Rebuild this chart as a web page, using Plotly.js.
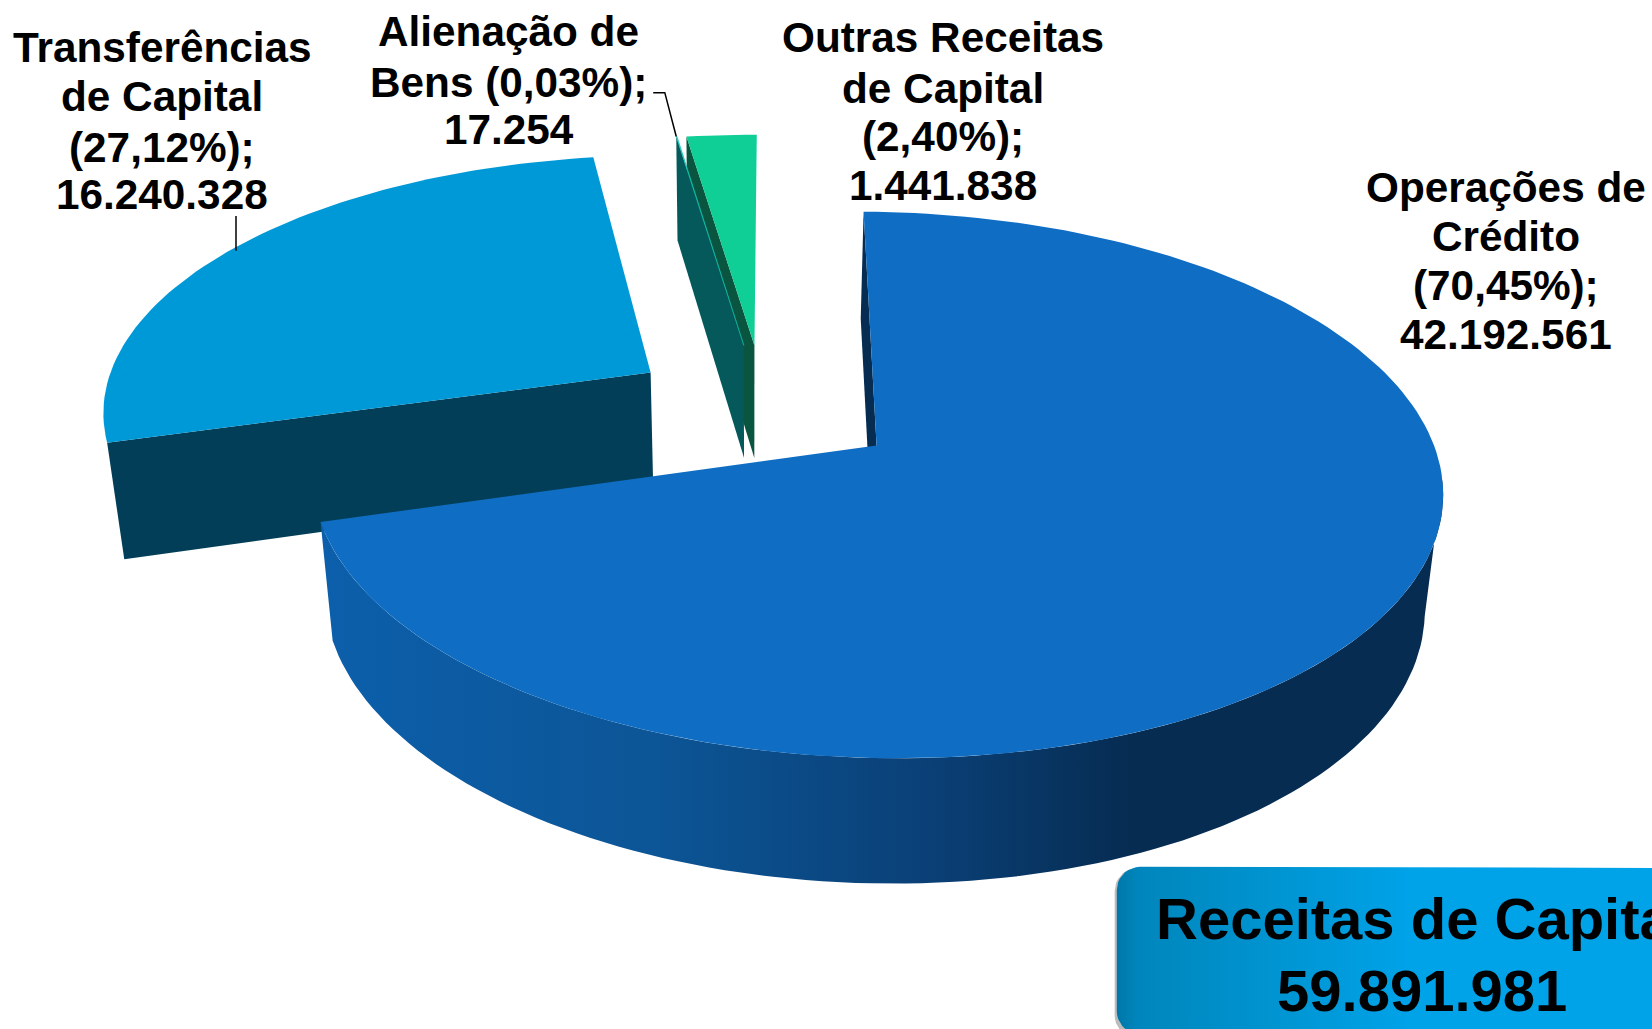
<!DOCTYPE html>
<html><head><meta charset="utf-8">
<script src="https://cdn.plot.ly/plotly-3.0.1.min.js"></script>
<style>html,body{margin:0;padding:0;background:#fff;overflow:hidden}#c{width:1652px;height:1029px}</style>
</head><body><div id="c"></div>
<script>
// ---- data ----
const categories = ["Operações de Crédito","Transferências de Capital","Alienação de Bens","Outras Receitas de Capital"];
const values = [42192561,16240328,17254,1441838];
const labelLines = [
  ["Operações de","Crédito","(70,45%);","42.192.561"],
  ["Transferências","de Capital","(27,12%);","16.240.328"],
  ["Alienação de","Bens (0,03%);","17.254"],
  ["Outras Receitas","de Capital","(2,40%);","1.441.838"]
];
const boxLines = ["Receitas de Capital","59.891.981"];

// ---- view geometry: a perspective view of the pie's plane, in picture units ----
const VW=1568, VH=977;
const cx=832, cy=423, f=531, g=254, k=0.1445, dw=0.027, H=113, shearX=0.03, shearY=0.010, lowShift=-3;
const startDeg=-0.7;
const apexes=[[0,0],[-0.416,0.275],[-0.245,0.39],[-0.225,0.39]];
const topCol=["#0f6ec4","#0099d8","#12c4b4","#0fce96"];
const faceCol=["#062c52","#023e57","#05595a","#0a5540"];
const total=values.reduce((a,b)=>a+b,0);
let acc=startDeg; const ranges=values.map(v=>{const a=acc; acc+=v/total*360; return [a,acc];});

function proj(X,Z,low){const w=1+k*Z+(low?dw:0);const x=f*X/w, y0=-g*Z/w, y=y0+(low?H/w:0);return [cx+x+shearX*y0+(low?lowShift:0), cy+y+shearY*x];}
function rim(i,deg,low){const r=deg*Math.PI/180,a=apexes[i];return proj(a[0]+Math.sin(r),a[1]+Math.cos(r),low);}
function arc(i,d0,d1,low){const n=Math.max(2,Math.ceil(Math.abs(d1-d0)/1.5)),o=[];for(let j=0;j<=n;j++)o.push(rim(i,d0+(d1-d0)*j/n,low));return o;}
function apex(i,low){return proj(apexes[i][0],apexes[i][1],low);}
function poly(pts,color,extra){return Object.assign({type:"scatter",mode:"lines",x:pts.map(p=>p[0]).concat(pts[0][0]),y:pts.map(p=>p[1]).concat(pts[0][1]),
  fill:"toself",fillcolor:color,line:{width:0,color:color},hoverinfo:"skip",showlegend:false},extra||{});}
function topFace(i){return poly([apex(i,false)].concat(arc(i,ranges[i][0],ranges[i][1],false)),topCol[i],{name:categories[i]});}
function radial(i,deg){return poly([apex(i,false),rim(i,deg,false),rim(i,deg,true),apex(i,true)],faceCol[i]);}

const traces=[];
// Outras Receitas: far slice, start face then top
traces.push(radial(3,ranges[3][0]));
traces.push(topFace(3));
// Alienação: sliver
traces.push(radial(2,ranges[2][0]));
const sliver=topFace(2); sliver.line={width:0.5,color:topCol[2]}; traces.push(sliver);
// Transferências
traces.push(radial(1,ranges[1][0]));
traces.push(topFace(1));
// Operações: start face, curved wall with gradient, top
traces.push(radial(0,ranges[0][0]));
const wallTop=arc(0,96,ranges[0][1],false), wallLow=arc(0,100,ranges[0][1],true).reverse();
traces.push(poly(wallTop.concat(wallLow),"#0a4a8a",{fillgradient:{type:"horizontal",colorscale:[[0,"#0c5fab"],[0.3,"#0c5596"],[0.55,"#0a3f75"],[0.72,"#062c52"],[1,"#062c52"]]}}));
traces.push(topFace(0));

// leader lines
traces.push({type:"scatter",mode:"lines",x:[224,224],y:[205,238],line:{color:"#000",width:1.5},hoverinfo:"skip",showlegend:false});
const aRim=rim(2,ranges[2][0],false);
traces.push({type:"scatter",mode:"lines",x:[620,631,aRim[0]],y:[88,88,aRim[1]],line:{color:"#000",width:1.5},hoverinfo:"skip",showlegend:false});

// rounded total box
function roundRect(x0,y0,x1,y1,r){const o=[];const c=[[x0+r,y0+r,180],[x1-r,y0+r,270],[x1-r,y1-r,0],[x0+r,y1-r,90]];
  c.forEach(q=>{for(let a=0;a<=90;a+=10){const t=(q[2]+a)*Math.PI/180;o.push([q[0]+r*Math.cos(t),q[1]+r*Math.sin(t)]);}});return o;}
traces.push(poly(roundRect(1058,824,1720,986,22),"rgba(90,90,90,0.4)"));
traces.push(poly(roundRect(1060,823,1720,982,22),"#009ad8",{fillgradient:{type:"horizontal",colorscale:[[0,"#0077a8"],[0.03,"#0086bc"],[0.25,"#0096d4"],[0.42,"#00a2e8"],[1,"#00a2e8"]]}}));

// text
const annotations=[];
const F="Liberation Sans, Arial, sans-serif";
const labelPos=[[1429,[178,225,271,318]],[154,[45,92,140,185]],[483,[30,78,123]],[895,[36,84,130,176]]];
labelLines.forEach((lines,i)=>lines.forEach((t,j)=>annotations.push({xref:"x",yref:"y",x:labelPos[i][0],y:labelPos[i][1][j],text:"<b>"+t+"</b>",showarrow:false,xanchor:"center",yanchor:"middle",font:{family:F,size:42.3,color:"#000"}})));
const boxY=[872,940];
boxLines.forEach((t,j)=>annotations.push({xref:"x",yref:"y",x:1350,y:boxY[j],text:"<b>"+t+"</b>",showarrow:false,xanchor:"center",yanchor:"middle",font:{family:F,size:58,color:"#000"}}));

Plotly.newPlot("c",traces,{
  width:1652,height:1029,margin:{l:0,r:0,t:0,b:0},paper_bgcolor:"#fff",plot_bgcolor:"#fff",showlegend:false,
  xaxis:{range:[0,VW],visible:false,fixedrange:true},
  yaxis:{range:[VH,0],visible:false,fixedrange:true},
  annotations:annotations
},{displayModeBar:false,staticPlot:true});
</script></body></html>
